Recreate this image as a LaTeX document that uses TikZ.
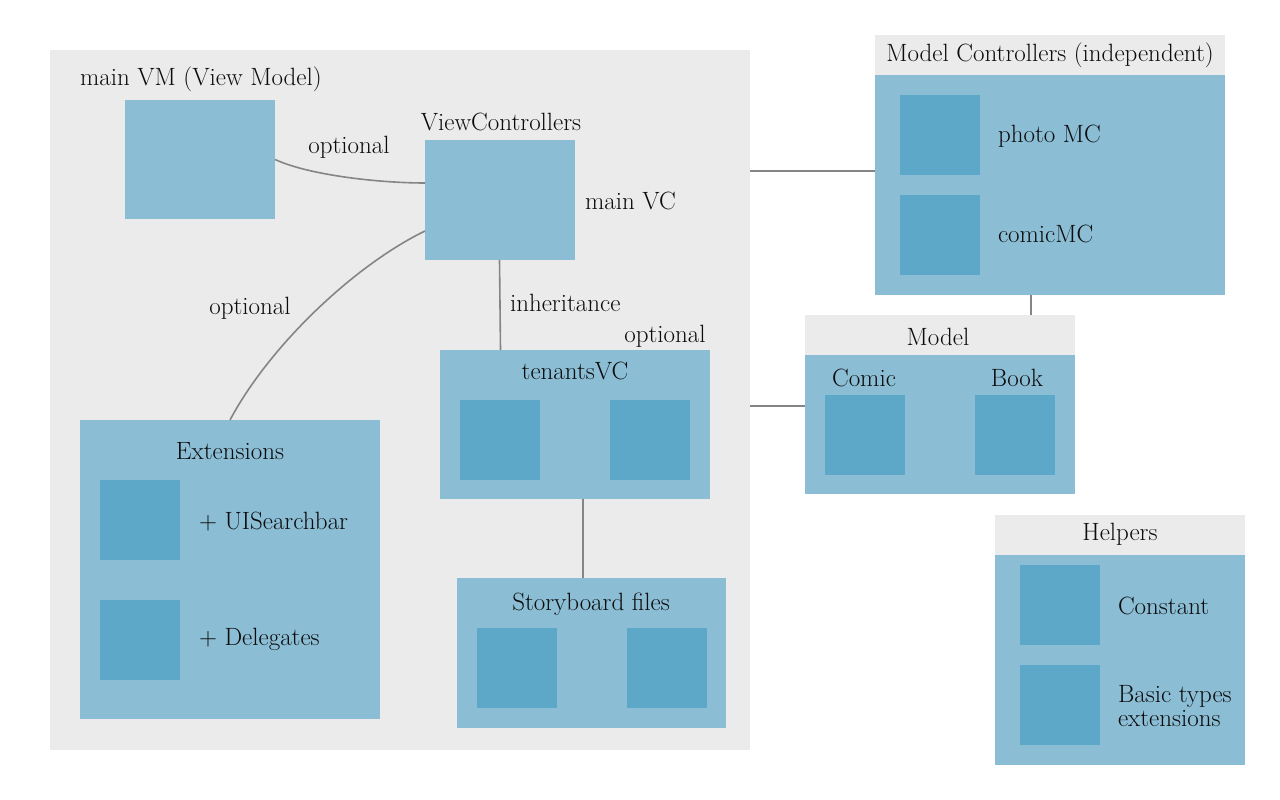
\documentclass[tikz,border=0pt]{standalone}
\usepackage{fontspec}
\definecolor{bgGrey}{HTML}{EBEBEB}
\definecolor{lightBlue}{HTML}{8BBDD5}
\definecolor{darkBlue}{HTML}{5DA7C8}
\definecolor{lineGrey}{HTML}{858585}
\definecolor{txt}{HTML}{0C0C0C}
\begin{document}
\begin{tikzpicture}[x=1pt,y=-1pt,
  every node/.style={inner sep=0pt,outer sep=0pt,text=txt,font=\fontsize{25}{27}\selectfont},
  panel/.style={fill=bgGrey,anchor=north west},
  bbox/.style={fill=lightBlue,anchor=north west},
  sq/.style={fill=darkBlue,anchor=north west,minimum width=80pt,minimum height=80pt},
  lbl/.style={anchor=center},
  conn/.style={draw=lineGrey,line width=1.6pt}]
\useasboundingbox (0,0) rectangle (1280,800);
\fill[white] (0,0) rectangle (1280,800);

% main grey area
\node[panel,minimum width=700pt,minimum height=700pt] (main) at (50,50) {};
\node[anchor=west] (vmlbl) at (80,79) {main VM (View Model)};
\node[bbox,minimum width=150pt,minimum height=119pt] (mainvm) at (125,100) {};
\node[lbl] (vclbl) at (501,122) {ViewControllers};
\node[bbox,minimum width=150pt,minimum height=120pt] (mainvc) at (425,140) {};
\node[anchor=west] (vcname) at (585,201) {main VC};
\node[lbl] (opt1) at (349,147) {optional};
\node[lbl] (opt2) at (250,308) {optional};
\node[anchor=west] (inh) at (510,303) {inheritance};
\node[lbl] (opt3) at (665,336) {optional};

% tenants
\node[bbox,minimum width=270pt,minimum height=149pt] (tenants) at (440,350) {};
\node[lbl] (tenlbl) at (575,371) {tenantsVC};
\node[sq] (ten1) at (460,400) {};
\node[sq] (ten2) at (610,400) {};

% storyboard
\node[bbox,minimum width=269pt,minimum height=150pt] (story) at (457,578) {};
\node[lbl] (storylbl) at (591,604) {Storyboard files};
\node[sq] (st1) at (477,628) {};
\node[sq] (st2) at (627,628) {};

% extensions
\node[bbox,minimum width=300pt,minimum height=299pt] (ext) at (80,420) {};
\node[lbl] (extlbl) at (230,451) {Extensions};
\node[sq] (ex1) at (100,480) {};
\node[sq] (ex2) at (100,600) {};
\node[anchor=west] (ex1l) at (199,522) {+ UISearchbar};
\node[anchor=west] (ex2l) at (199,639) {+ Delegates};

% model controllers
\node[panel,minimum width=350pt,minimum height=40pt] (mchead) at (875,35) {};
\node[lbl] (mclbl) at (1050,55) {Model Controllers (independent)};
\node[bbox,minimum width=350pt,minimum height=220pt] (mcbody) at (875,75) {};
\node[sq] (mc1) at (900,95) {};
\node[sq] (mc2) at (900,195) {};
\node[anchor=west] (mc1l) at (998,136) {photo MC};
\node[anchor=west] (mc2l) at (998,234) {comicMC};

% model
\node[panel,minimum width=270pt,minimum height=40pt] (modelhead) at (805,315) {};
\node[lbl] (modellbl) at (938,337) {Model};
\node[bbox,minimum width=270pt,minimum height=139pt] (modelbody) at (805,355) {};
\node[lbl] (comiclbl) at (864,378) {Comic};
\node[lbl] (booklbl) at (1017,378) {Book};
\node[sq] (m1) at (825,395) {};
\node[sq] (m2) at (975,395) {};

% helpers
\node[panel,minimum width=250pt,minimum height=40pt] (hhead) at (995,515) {};
\node[lbl] (hlbl) at (1120,534) {Helpers};
\node[bbox,minimum width=250pt,minimum height=210pt] (hbody) at (995,555) {};
\node[sq] (h1) at (1020,565) {};
\node[sq] (h2) at (1020,665) {};
\node[anchor=west] (h1l) at (1118,606) {Constant};
\node[anchor=west,align=left,font=\fontsize{25}{24}\selectfont] (h2l) at (1118,706) {Basic types\\extensions};

% connectors
\draw[conn] (mainvm.east) .. controls +(35,16) and +(-45,0) .. ([yshift=17pt]mainvc.west);
\draw[conn] ([yshift=-31pt]mainvc.west) .. controls +(-70,34) and +(40,-75) .. (ext.north);
\draw[conn] ([xshift=-0.5pt]mainvc.south) -- ([xshift=0.5pt]mainvc.south |- tenants.north);
\draw[conn] ([xshift=8pt]tenants.south) -- ([xshift=8pt]tenants.south |- story.north);
\draw[conn] ([yshift=229pt]main.east) -- ([yshift=229pt]main.east -| mcbody.west);
\draw[conn] ([xshift=-19pt]mcbody.south) -- ([xshift=-19pt]mcbody.south |- modelhead.north);
\draw[conn] ([yshift=-6pt]main.east) -- ([yshift=-6pt]main.east -| modelbody.west);
\end{tikzpicture}
\end{document}
